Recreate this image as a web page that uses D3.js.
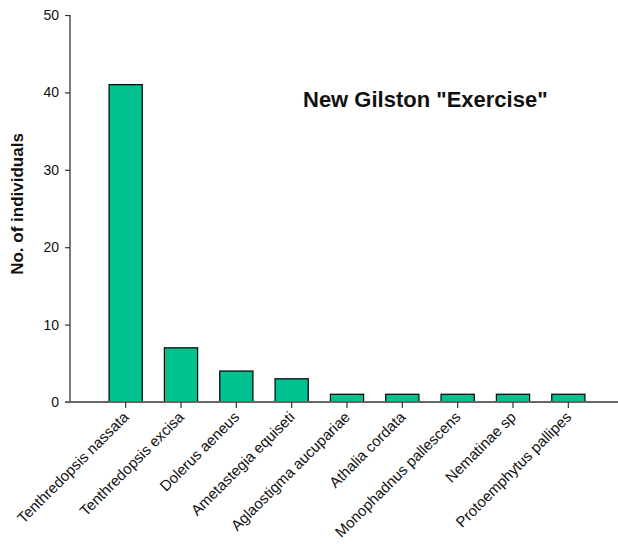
<!DOCTYPE html>
<html><head><meta charset="utf-8">
<script src="https://cdn.jsdelivr.net/npm/d3@7"></script>
<style>body{margin:0;background:#fff;} text{font-family:Arial,"Liberation Sans",sans-serif;}</style>
</head><body>
<svg id="c" width="618" height="544"></svg>
<script>
const categories = ["Tenthredopsis nassata","Tenthredopsis excisa","Dolerus aeneus","Ametastegia equiseti","Aglaostigma aucupariae","Athalia cordata","Monophadnus pallescens","Nematinae sp","Protoemphytus pallipes"];
const values = [41,7,4,3,1,1,1,1,1];
const yTicks = [0,10,20,30,40,50];
const title = 'New Gilston "Exercise"';
const yLabel = "No. of individuals";

const svg = d3.select("#c");
const x = d3.scaleBand().domain(categories).range([98,596]).paddingInner(0.4).paddingOuter(0.2);
const y = d3.scaleLinear().domain([0,50]).range([402,15]);

// bars
svg.append("g").selectAll("rect").data(values).join("rect")
  .attr("x",(d,i)=>x(categories[i]))
  .attr("y",d=>y(d))
  .attr("width",x.bandwidth())
  .attr("height",d=>y(0)-y(d))
  .attr("fill","#00C18F").attr("stroke","#000").attr("stroke-width",1.2);

// y axis
const ya = svg.append("g").attr("transform","translate(70,0)")
  .call(d3.axisLeft(y).tickValues(yTicks).tickSize(5).tickPadding(6).tickFormat(d3.format("d")));
ya.select(".domain").attr("stroke","#333").attr("stroke-width",1.3).attr("d","M0,15V402");
ya.selectAll(".tick line").attr("stroke","#333").attr("stroke-width",1.2);
ya.selectAll("text").attr("font-size",14).attr("fill","#111").attr("font-family","Arial,'Liberation Sans',sans-serif");

// x axis
const xa = svg.append("g").attr("transform","translate(0,402)")
  .call(d3.axisBottom(x).tickSize(6).tickSizeOuter(0).tickFormat(d=>d));
xa.select(".domain").attr("stroke","#666").attr("stroke-width",2).attr("d","M65,0H618");
xa.selectAll(".tick line").attr("stroke","#333").attr("stroke-width",1.2);
xa.selectAll(".tick text")
  .attr("font-size",15).attr("fill","#111").attr("font-family","Arial,'Liberation Sans',sans-serif")
  .attr("text-anchor","end").attr("x",0).attr("y",0).attr("dy",0)
  .attr("transform","translate(4,16) rotate(-45)");

// y label
svg.append("text").attr("transform","translate(23,204) rotate(-90)")
  .attr("text-anchor","middle").attr("font-weight","bold").attr("font-size",17).attr("fill","#111")
  .text(yLabel);

// title
svg.append("text").attr("x",303).attr("y",107).attr("font-weight","bold").attr("font-size",22).attr("fill","#111")
  .text(title);
</script>
</body></html>
